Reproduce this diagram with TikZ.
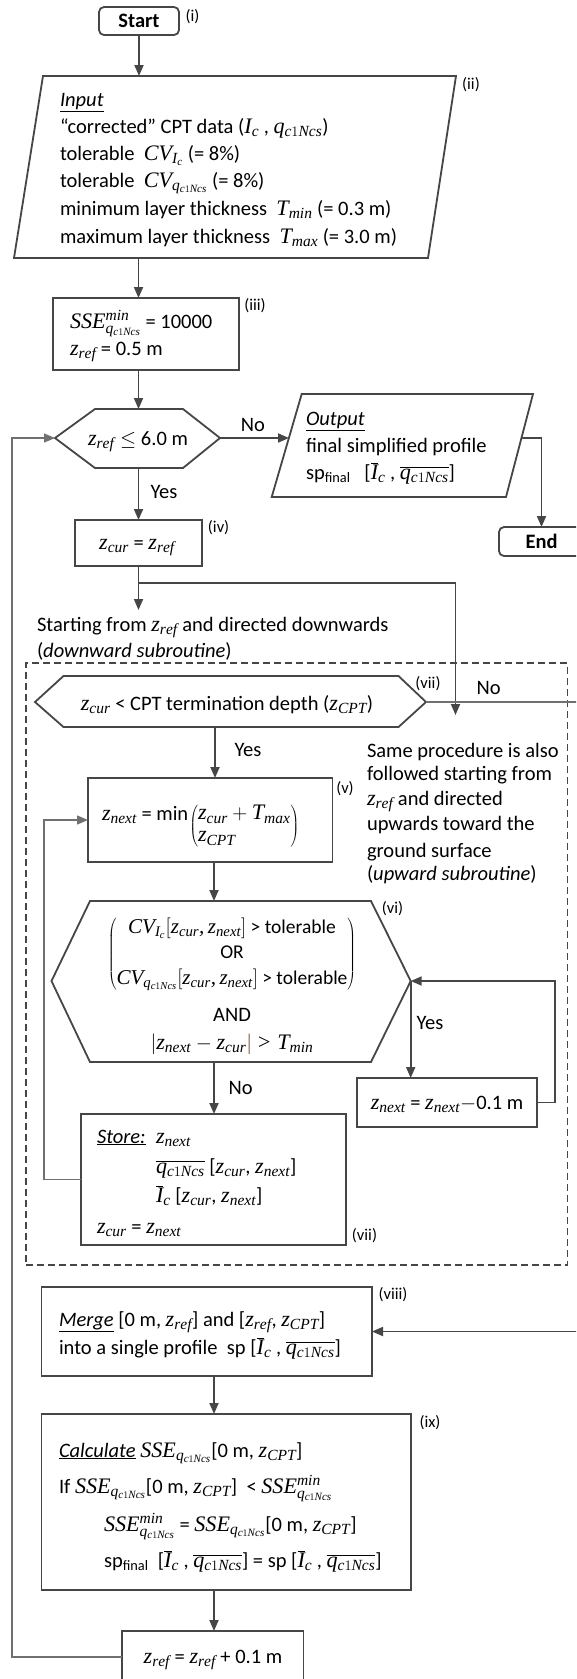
\documentclass[tikz,border=0pt]{standalone}
\usepackage{fontspec}
\setmainfont{Carlito}
\newfontfamily\mvarfont{Liberation Serif}[NFSSFamily=mvar,Scale=1.08]
\DeclareSymbolFont{letters}{TU}{mvar}{m}{it}
\SetSymbolFont{letters}{bold}{TU}{mvar}{b}{it}
\mathcode`\,="612C
\usetikzlibrary{arrows.meta}
\definecolor{lc}{HTML}{464646}
\definecolor{lt}{HTML}{707070}
\definecolor{barred}{HTML}{7A2A10}
\newcommand{\msz}{\fontsize{20.5}{25}\selectfont}
\newcommand{\lsz}{\fontsize{16.5}{20}\selectfont}
\newcommand{\qq}{q_{c1Ncs}}
\newcommand{\Ib}{\overline{I}_c}
\newcommand{\qb}{\overline{q_{c1Ncs}}}
\begin{document}
\begin{tikzpicture}[x=1pt,y=-1pt,
  every node/.style={inner sep=0pt,outer sep=0pt,font=\msz,text=black},
  shp/.style={draw=lc,line width=1.8pt},
  arrtip/.style={-{Triangle[length=11pt,width=9pt]}},
  con/.style={draw=lc,line width=1.8pt,arrtip},
  thincon/.style={draw=lt,line width=1.3pt,arrtip},
  thinl/.style={draw=lt,line width=1.3pt},
  lbl/.style={font=\lsz},
  tl/.style={anchor=base west},
  tc/.style={anchor=base},
]
\useasboundingbox (0,0) rectangle (576,1679);
\fill[white] (0,0) rectangle (576,1679);
\clip (0,0) rectangle (576,1679);

% ---- coordinates
\coordinate (inN) at (139,76);
\coordinate (inS) at (138.5,258);
\coordinate (h1n) at (138.5,409);
\coordinate (h1s) at (138.5,468);
\coordinate (h1w) at (55,438);
\coordinate (h1e) at (220,438);
\coordinate (outW) at (289,438);
\coordinate (outE) at (521.5,438);
\coordinate (a1) at (138.5,610);
\coordinate (j1) at (138.5,583);
\coordinate (sameN) at (455.5,715);
\coordinate (h2e) at (426,702);
\coordinate (h2s) at (215,727);
\coordinate (noR) at (600,702);
\coordinate (h3n) at (214,901);
\coordinate (h3s) at (214,1062);
\coordinate (h3e) at (410.7,981);
\coordinate (ax2) at (214,0);
\coordinate (lp1) at (12,1657);

% ---- shapes
\node[shp,rounded corners=5pt,minimum width=80pt,minimum height=28pt,font=\msz\bfseries] (start) at (139,21) {Start};
\draw[shp] (43,76) -- (456,76) -- (428,258) -- (14,258) -- cycle;
\node[shp,minimum width=186pt,minimum height=72pt] (b3) at (146,334) {};
\draw[shp] (55,438) -- (95,409) -- (183,409) -- (220,438) -- (183,468) -- (95,468) -- cycle;
\draw[shp] (301.7,394) -- (533,394) -- (506,497) -- (271.7,497) -- cycle;
\node[shp,rounded corners=5pt,minimum width=85pt,minimum height=29pt,font=\msz\bfseries] (end) at (541.5,541.5) {End};
\node[shp,minimum width=127pt,minimum height=46pt] (b4) at (138.5,543) {};
\node[draw=lc,line width=1.3pt,dash pattern=on 7pt off 4pt,minimum width=541.6pt,minimum height=602pt] (sub) at (296.8,964) {};
\draw[shp] (35,702) -- (63.5,676) -- (398.5,676) -- (426,702) -- (398.5,727) -- (63.5,727) -- cycle;
\node[shp,minimum width=244.5pt,minimum height=84pt] (b5) at (210.25,820) {};
\draw[shp] (51.5,981) -- (90,901) -- (371,901) -- (410.7,981) -- (371,1062) -- (90,1062) -- cycle;
\node[shp,minimum width=180pt,minimum height=49pt] (bd) at (447,1102.5) {};
\node[shp,minimum width=265pt,minimum height=131pt] (st) at (213.5,1179.5) {};
\node[shp,minimum width=330.5pt,minimum height=89pt] (mg) at (206.75,1331.5) {};
\node[shp,minimum width=369.2pt,minimum height=176pt] (cl) at (226.1,1502) {};
\node[shp,minimum width=181.5pt,minimum height=52pt] (lz) at (212.75,1657) {};

% ---- texts
\node[tl] (inT0) at (60,106) {\underline{\textit{Input}}};
\node[tl] (inT1) at (60,133) {``corrected'' CPT data ($I_c$ , $\qq$)};
\node[tl] (inT2) at (60,160) {tolerable\ \ $CV_{I_c}$ (= 8\%)};
\node[tl] (inT3) at (60,187) {tolerable\ \ $CV_{\qq}$ (= 8\%)};
\node[tl] (inT4) at (60,215) {minimum layer thickness\ \ $T_{min}$ (= 0.3 m)};
\node[tl] (inT5) at (60,243) {maximum layer thickness\ \ $T_{max}$ (= 3.0 m)};

\node[tl] (b3a) at (70,328) {$SSE^{min}_{\qq}$ = 10000};
\node[tl] (b3b) at (70,355) {$z_{ref}$ = 0.5 m};

\node[tc] (h1t) at (138,445) {$z_{ref} \leq$ 6.0 m};

\node[tl] (o1) at (306,425) {\underline{\textit{Output}}};
\node[tl] (o2) at (306,452) {final simplified profile};
\node[tl] (o3) at (306,479) {sp\textsubscript{final}\ \ \ [$\Ib$ , $\qb$]};

\node[tc] (b4t) at (137,549) {$z_{cur}$ = $z_{ref}$};

\node[tl] (st1) at (37,631) {Starting from $z_{ref}$ and directed downwards};
\node[tl] (st2) at (37,657) {(\textit{downward subroutine})};

\node[tc] (h2t) at (227,710) {$z_{cur}$ < CPT termination depth ($z_{CPT}$)};

\node[tl] (sp1) at (367,757) {Same procedure is also};
\node[tl] (sp2) at (367,780) {followed starting from};
\node[tl] (sp3) at (367,805) {$z_{ref}$ and directed};
\node[tl] (sp4) at (367,830) {upwards toward the};
\node[tl] (sp5) at (367,857) {ground surface};
\node[tl] (sp6) at (367,880) {(\textit{upward subroutine})};

\node[tl] (b5a) at (102,820) {$z_{next}$ = min};
\node[anchor=base west,font=\fontsize{20.5}{22}\selectfont] (b5b) at ([xshift=1pt,yshift=-11.7pt]b5a.base east) {$\left(\begin{array}{@{}l@{}} z_{cur} + T_{max}\\ z_{CPT}\end{array}\right)$};

\node[tc,font=\fontsize{19.5}{25.5}\selectfont] (h3a) at (232,959) {$\left(\begin{array}{@{}c@{}} CV_{I_c}[z_{cur}, z_{next}]\mbox{ > tolerable}\\ \mbox{OR}\\ CV_{\qq}[z_{cur}, z_{next}]\mbox{ > tolerable}\end{array}\right)$};
\node[tc] (h3b) at (232,1021) {AND};
\node[tc] (h3c) at (232,1049) {$|z_{next} - z_{cur}$\textcolor{barred}{$|$} $> T_{min}$};

\node[tc] (bdt) at (447,1109) {$z_{next}$ = $z_{next} -$0.1 m};

\node[tl] (s1) at (97,1143) {\underline{\textit{Store:}}};
\node[tl] (s2) at (156,1143) {$z_{next}$};
\node[tl] (s3) at (156,1173) {$\qb$ [$z_{cur}$, $z_{next}$]};
\node[tl] (s4) at (156,1202) {$\Ib$ [$z_{cur}$, $z_{next}$]};
\node[tl] (s5) at (97,1233) {$z_{cur}$ = $z_{next}$};

\node[tl] (m1) at (59,1326) {\underline{\textit{Merge}} [0 m, $z_{ref}$] and [$z_{ref}$, $z_{CPT}$]};
\node[tl] (m2) at (59,1354) {into a single profile\ \ sp [$\Ib$ , $\qb$]};

\node[tl] (c1) at (59,1457) {\underline{\textit{Calculate}} $SSE_{\qq}$[0 m, $z_{CPT}$]};
\node[tl] (c2) at (59,1493) {If $SSE_{\qq}$[0 m, $z_{CPT}$]\ \ < $SSE^{min}_{\qq}$};
\node[tl] (c3) at (104,1531) {$SSE^{min}_{\qq}$ = $SSE_{\qq}$[0 m, $z_{CPT}$]};
\node[tl] (c4) at (104,1567) {sp\textsubscript{final}\ \ [$\Ib$ , $\qb$] = sp [$\Ib$ , $\qb$]};

\node[tc] (lzt) at (213,1663) {$z_{ref}$ = $z_{ref}$ + 0.1 m};

% ---- step labels
\node[lbl] (L1) at (192.5,16.5) {(i)};
\node[lbl] (L2) at (471,84.5) {(ii)};
\node[lbl] (L3) at (255,305.5) {(iii)};
\node[lbl] (L4) at (218.6,528) {(iv)};
\node[lbl] (L5) at (345,788.5) {(v)};
\node[lbl] (L6) at (392.5,909) {(vi)};
\node[lbl] (L7) at (428,684) {(vii)};
\node[lbl] (L7b) at (364.5,1235.5) {(vii)};
\node[lbl] (L8) at (393,1295) {(viii)};
\node[lbl] (L9) at (430,1423) {(ix)};

% ---- yes/no
\node (n1) at (253,425) {No};
\node (y1) at (164,491.7) {Yes};
\node (n2) at (488.6,688) {No};
\node (y2) at (248,750) {Yes};
\node (y3) at (430,1023) {Yes};
\node (n3) at (240.6,1088) {No};

% ---- connectors
\draw[con] (start) -- (inN);
\draw[con] (inS) -- (inS |- b3.north);
\draw[con] (b3.south -| h1n) -- (h1n);
\draw[con] (h1e) -- (outW);
\draw[con] (outE) -| (end.north);
\draw[con] (h1s) -- (b4.north);
\draw[con] (b4.south) -- (a1);
\draw[con] (j1) -| (sameN);
\draw[thinl] (h2e) -- (noR);
\draw[con] (noR) |- (mg.east);
\draw[con] (h2s) -- (h2s |- b5.north);
\draw[con] (b5.south -| h3n) -- (h3n);
\draw[con] (h3e) -- (h3e |- bd.north);
\draw[con] (bd.east) -- ++(18,0) |- (h3e);
\draw[con] (h3s) -- (h3s |- st.north);
\draw[thincon] (st.west) -- ++(-37,0) |- (b5.west);
\draw[con] (mg.south -| ax2) -- (cl.north -| ax2);
\draw[con] (cl.south -| ax2) -- (lz.north -| ax2);
\draw[thincon] (lz.west) -- (lp1) |- (h1w);
\end{tikzpicture}
\end{document}
